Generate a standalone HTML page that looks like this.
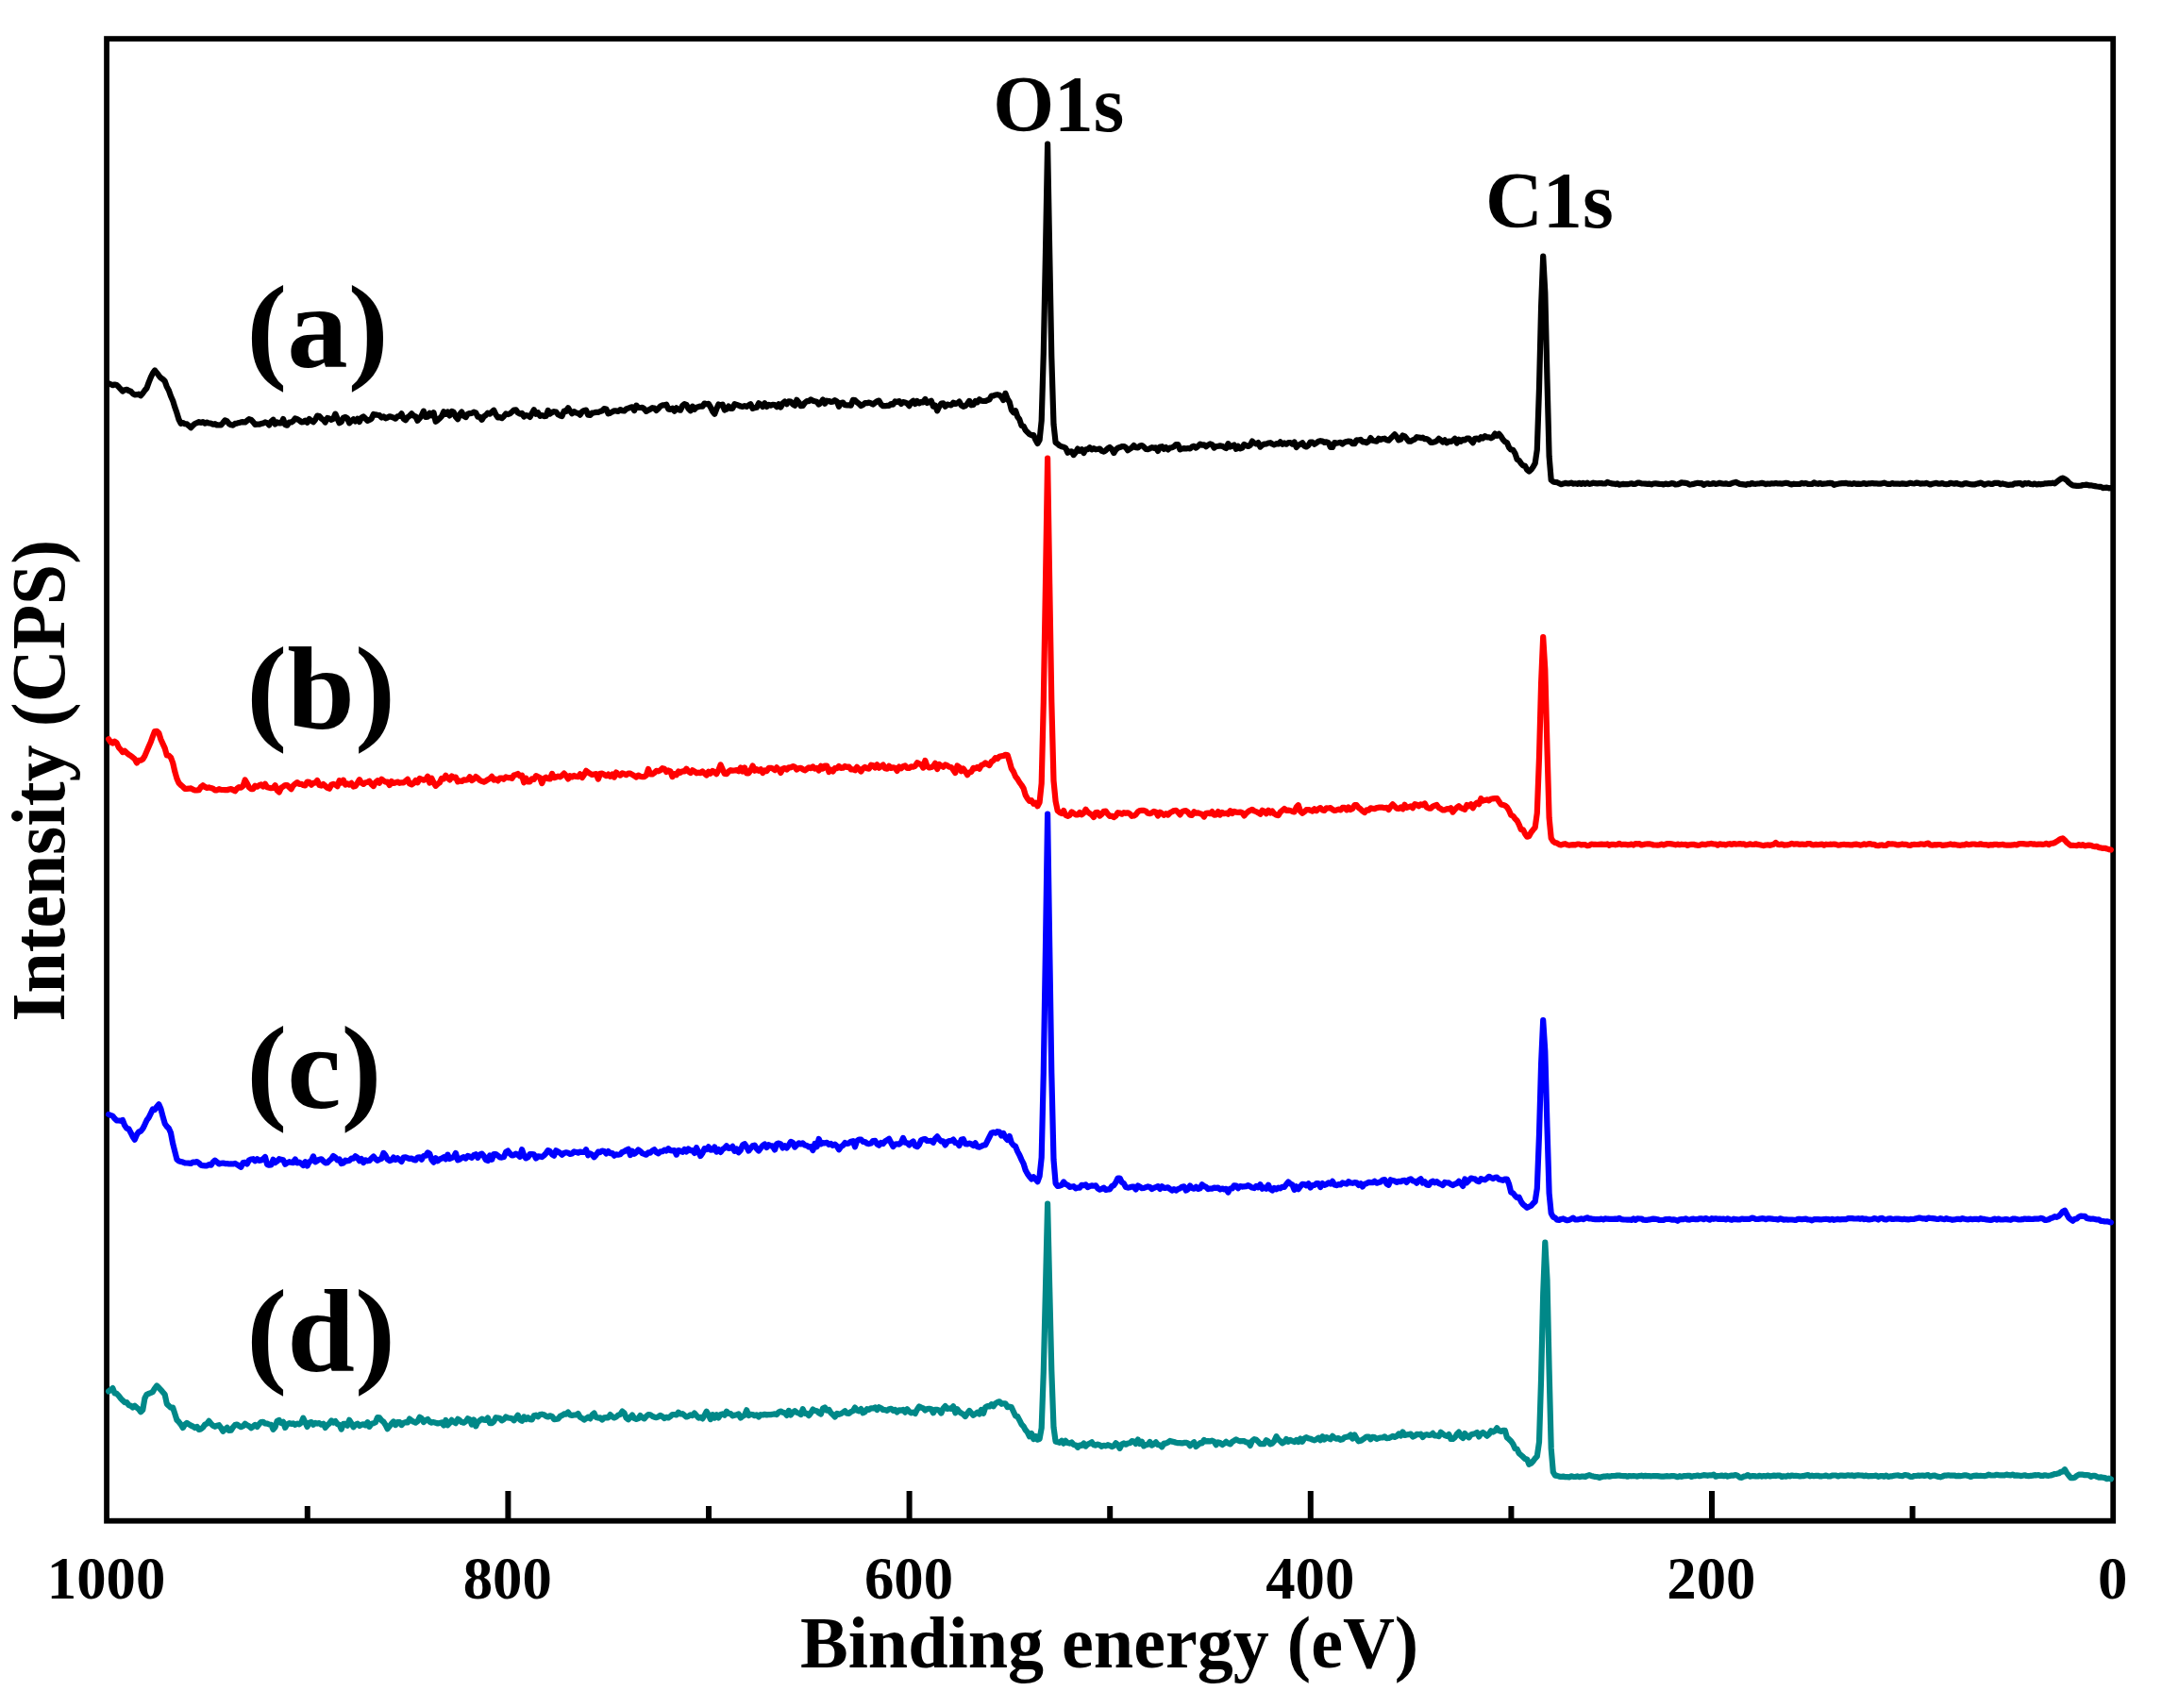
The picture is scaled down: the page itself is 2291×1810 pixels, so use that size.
<!DOCTYPE html>
<html lang="en">
<head>
<meta charset="utf-8">
<title>XPS survey spectra</title>
<style>
html,body{margin:0;padding:0;background:#fff;}
body{width:2291px;height:1810px;overflow:hidden;}
svg{display:block;}
text{font-family:"Liberation Serif",serif;font-weight:bold;fill:#000;}
.tick{font-size:62px;text-anchor:middle;}
.axis{font-size:76px;text-anchor:middle;}
.lab{font-size:126px;}
.pk{font-size:82px;}
</style>
</head>
<body>
<svg width="2291" height="1810" viewBox="0 0 2291 1810">
<rect x="0" y="0" width="2291" height="1810" fill="#ffffff"/>
<rect x="113.05" y="41.1" width="2126.15" height="1570.6" fill="none" stroke="#000" stroke-width="5.8"/>
<g id="curves">
<polyline points="115.1,406.3 117.3,407.3 119.4,408.2 121.5,407.5 123.6,408.0 125.8,410.1 127.9,412.3 130.0,414.5 132.1,413.2 134.3,412.8 136.4,414.0 138.5,414.7 140.6,417.0 142.8,418.3 144.9,418.2 147.0,417.7 149.1,419.3 151.3,416.7 153.4,413.8 155.5,411.2 157.6,405.4 159.8,399.9 161.9,395.5 164.0,392.4 166.2,395.1 168.3,397.9 170.4,400.4 172.5,401.8 174.7,404.0 176.8,409.9 178.9,413.8 181.0,419.8 183.2,424.7 185.3,431.6 187.4,437.6 189.5,444.5 191.7,448.9 193.8,448.1 195.9,449.2 198.0,449.4 200.2,451.3 202.3,453.2 204.4,450.9 206.5,449.0 208.7,448.1 210.8,447.2 212.9,447.9 215.0,447.1 217.2,448.6 219.3,447.6 221.4,448.5 223.6,448.7 225.7,449.7 227.8,449.2 229.9,450.5 232.1,450.4 234.2,450.4 236.3,448.0 238.4,445.4 240.6,446.4 242.7,449.0 244.8,450.3 246.9,450.6 249.1,448.9 251.2,448.6 253.3,448.1 255.4,447.4 257.6,447.2 259.7,447.5 261.8,445.8 263.9,444.2 266.1,444.9 268.2,447.2 270.3,449.9 272.5,449.7 274.6,449.7 276.7,449.1 278.8,448.6 281.0,447.4 283.1,448.1 285.2,450.4 287.3,446.8 289.5,444.7 291.6,449.5 293.7,447.5 295.8,448.3 298.0,448.3 300.1,444.0 302.2,450.0 304.3,450.7 306.5,447.5 308.6,447.5 310.7,446.2 312.8,443.5 315.0,444.2 317.1,445.4 319.2,447.3 321.3,447.1 323.5,445.6 325.6,447.8 327.7,444.0 329.9,445.9 332.0,447.2 334.1,444.7 336.2,440.6 338.4,441.0 340.5,443.4 342.6,444.9 344.7,447.5 346.9,443.0 349.0,443.5 351.1,444.9 353.2,443.7 355.4,438.6 357.5,443.4 359.6,448.2 361.7,447.1 363.9,442.7 366.0,442.1 368.1,443.2 370.2,448.3 372.4,446.1 374.5,444.2 376.6,446.5 378.8,443.9 380.9,447.0 383.0,442.7 385.1,441.5 387.3,443.6 389.4,445.8 391.5,444.9 393.6,443.8 395.8,438.9 397.9,439.4 400.0,439.8 402.1,440.1 404.3,442.5 406.4,441.4 408.5,443.3 410.6,442.5 412.8,441.3 414.9,441.8 417.0,442.6 419.1,443.7 421.3,441.3 423.4,441.0 425.5,438.4 427.6,443.7 429.8,445.3 431.9,442.3 434.0,440.7 436.2,438.4 438.3,440.6 440.4,441.4 442.5,445.8 444.7,443.3 446.8,440.2 448.9,435.6 451.0,442.0 453.2,441.7 455.3,437.8 457.4,440.1 459.5,437.2 461.7,446.8 463.8,445.2 465.9,443.4 468.0,441.2 470.2,436.3 472.3,438.8 474.4,436.6 476.5,440.4 478.7,435.9 480.8,436.9 482.9,441.7 485.1,444.2 487.2,439.1 489.3,436.6 491.4,440.8 493.6,442.1 495.7,438.7 497.8,438.1 499.9,437.9 502.1,436.7 504.2,437.4 506.3,441.6 508.4,441.9 510.6,444.8 512.7,441.3 514.8,440.0 516.9,437.7 519.1,438.7 521.2,436.5 523.3,434.7 525.4,439.3 527.6,442.4 529.7,442.2 531.8,443.1 533.9,441.2 536.1,438.4 538.2,439.1 540.3,438.4 542.5,436.5 544.6,434.6 546.7,434.4 548.8,437.4 551.0,438.7 553.1,437.9 555.2,441.5 557.3,440.1 559.5,440.5 561.6,441.9 563.7,438.1 565.8,434.3 568.0,438.7 570.1,437.2 572.2,440.8 574.3,440.0 576.5,441.1 578.6,441.0 580.7,434.9 582.8,438.6 585.0,437.0 587.1,436.2 589.2,436.6 591.4,439.2 593.5,440.4 595.6,441.0 597.7,435.6 599.9,435.9 602.0,432.2 604.1,435.6 606.2,438.2 608.4,436.1 610.5,437.5 612.6,437.9 614.7,439.6 616.9,436.2 619.0,435.0 621.1,434.6 623.2,439.7 625.4,440.0 627.5,437.5 629.6,437.3 631.7,436.9 633.9,436.9 636.0,436.0 638.1,435.3 640.2,433.1 642.4,433.5 644.5,438.4 646.6,437.7 648.8,436.4 650.9,435.3 653.0,435.4 655.1,436.0 657.3,434.1 659.4,435.1 661.5,435.4 663.6,433.4 665.8,432.6 667.9,431.8 670.0,431.3 672.1,435.1 674.3,429.6 676.4,432.0 678.5,432.0 680.6,431.9 682.8,433.4 684.9,435.9 687.0,434.6 689.1,433.6 691.3,432.2 693.4,432.6 695.5,434.9 697.7,432.9 699.8,430.5 701.9,429.4 704.0,429.3 706.2,428.7 708.3,433.6 710.4,433.8 712.5,432.6 714.7,435.7 716.8,432.3 718.9,434.0 721.0,434.7 723.2,429.9 725.3,428.2 727.4,428.9 729.5,433.0 731.7,435.2 733.8,430.6 735.9,433.8 738.0,431.8 740.2,431.1 742.3,430.5 744.4,430.7 746.5,427.6 748.7,428.2 750.8,427.9 752.9,431.4 755.1,435.9 757.2,438.8 759.3,433.3 761.4,428.5 763.6,429.5 765.7,428.7 767.8,434.5 769.9,433.6 772.1,430.5 774.2,432.9 776.3,432.8 778.4,428.2 780.6,428.9 782.7,429.7 784.8,430.5 786.9,431.0 789.1,430.1 791.2,430.9 793.3,429.5 795.4,428.3 797.6,432.9 799.7,432.1 801.8,431.8 804.0,427.3 806.1,428.6 808.2,431.0 810.3,427.3 812.5,430.9 814.6,428.9 816.7,429.7 818.8,428.8 821.0,429.1 823.1,431.1 825.2,428.3 827.3,431.4 829.5,427.4 831.6,425.5 833.7,428.2 835.8,425.3 838.0,425.6 840.1,428.3 842.2,429.7 844.3,423.8 846.5,426.4 848.6,430.1 850.7,429.9 852.8,426.9 855.0,425.1 857.1,425.2 859.2,423.4 861.4,424.7 863.5,425.3 865.6,425.7 867.7,428.6 869.9,426.7 872.0,423.5 874.1,427.7 876.2,424.7 878.4,425.0 880.5,425.8 882.6,425.6 884.7,424.2 886.9,425.4 889.0,430.9 891.1,427.0 893.2,426.6 895.4,429.2 897.5,429.3 899.6,429.4 901.7,429.7 903.9,423.8 906.0,424.1 908.1,426.2 910.2,427.8 912.4,430.0 914.5,429.0 916.6,427.2 918.8,427.2 920.9,426.6 923.0,427.4 925.1,428.5 927.3,426.8 929.4,425.2 931.5,424.6 933.6,428.5 935.8,430.2 937.9,430.2 940.0,429.9 942.1,429.8 944.3,428.0 946.4,428.7 948.5,425.4 950.6,426.0 952.8,425.1 954.9,427.9 957.0,426.1 959.1,426.5 961.3,427.6 963.4,430.1 965.5,426.4 967.7,424.8 969.8,428.0 971.9,425.0 974.0,427.3 976.2,425.9 978.3,426.4 980.4,423.0 982.5,427.1 984.7,426.0 986.8,424.8 988.9,430.6 991.0,429.7 993.2,435.3 995.3,430.8 997.4,427.6 999.5,427.4 1001.7,430.7 1003.8,428.6 1005.9,429.0 1008.0,429.4 1010.2,426.7 1012.3,428.0 1014.4,427.3 1016.5,425.6 1018.7,429.6 1020.8,430.8 1022.9,430.0 1025.1,427.9 1027.2,424.9 1029.3,429.3 1031.4,429.0 1033.6,424.9 1035.7,426.3 1037.8,423.2 1039.9,424.7 1042.1,425.0 1044.2,425.0 1046.3,424.2 1048.4,423.3 1050.6,419.6 1052.7,419.4 1054.8,418.5 1056.9,418.2 1059.1,418.7 1061.2,420.7 1063.3,424.0 1065.4,416.8 1067.6,422.8 1069.7,425.9 1071.8,434.3 1074.0,437.2 1076.1,435.3 1078.2,441.6 1080.3,444.4 1082.5,451.1 1084.6,451.7 1086.7,455.9 1088.8,458.1 1091.0,460.2 1093.1,461.1 1095.2,461.0 1097.3,466.0 1099.5,469.9 1101.6,466.3 1103.7,445.8 1105.8,374.4 1108.0,267.1 1110.1,152.6 1112.2,267.9 1114.3,378.5 1116.5,449.7 1118.6,469.0 1120.7,470.4 1122.9,472.3 1125.0,473.3 1127.1,473.7 1129.2,474.7 1131.4,479.7 1133.5,478.5 1135.6,478.4 1137.7,482.1 1139.9,479.4 1142.0,475.6 1144.1,477.8 1146.2,476.2 1148.4,480.0 1150.5,476.3 1152.6,476.1 1154.7,474.2 1156.9,476.4 1159.0,475.1 1161.1,476.3 1163.2,476.0 1165.4,475.5 1167.5,477.9 1169.6,478.6 1171.7,477.3 1173.9,475.2 1176.0,474.0 1178.1,475.8 1180.3,480.0 1182.4,476.6 1184.5,474.7 1186.6,474.1 1188.8,473.2 1190.9,473.0 1193.0,474.2 1195.1,477.3 1197.3,475.8 1199.4,474.4 1201.5,472.0 1203.6,474.2 1205.8,474.5 1207.9,472.6 1210.0,472.1 1212.1,473.6 1214.3,475.9 1216.4,476.1 1218.5,475.3 1220.6,474.1 1222.8,474.8 1224.9,474.4 1227.0,477.9 1229.2,473.5 1231.3,473.2 1233.4,475.9 1235.5,474.1 1237.7,476.4 1239.8,474.6 1241.9,474.3 1244.0,473.2 1246.2,471.1 1248.3,471.0 1250.4,476.4 1252.5,475.5 1254.7,475.1 1256.8,475.5 1258.9,475.0 1261.0,475.5 1263.2,473.5 1265.3,472.8 1267.4,474.6 1269.5,472.9 1271.7,470.6 1273.8,471.6 1275.9,471.4 1278.0,473.2 1280.2,471.6 1282.3,470.4 1284.4,471.1 1286.6,474.6 1288.7,473.0 1290.8,472.8 1292.9,472.4 1295.1,472.7 1297.2,473.9 1299.3,475.0 1301.4,470.2 1303.6,473.6 1305.7,472.5 1307.8,471.5 1309.9,475.8 1312.1,472.9 1314.2,475.4 1316.3,474.6 1318.4,470.9 1320.6,472.2 1322.7,473.0 1324.8,471.8 1326.9,467.6 1329.1,469.5 1331.2,470.4 1333.3,469.1 1335.5,473.6 1337.6,471.6 1339.7,470.7 1341.8,470.5 1344.0,469.5 1346.1,469.2 1348.2,470.5 1350.3,471.4 1352.5,470.2 1354.6,470.5 1356.7,468.4 1358.8,470.8 1361.0,469.5 1363.1,470.7 1365.2,469.1 1367.3,469.2 1369.5,470.5 1371.6,468.5 1373.7,474.0 1375.8,471.6 1378.0,470.7 1380.1,469.2 1382.2,472.7 1384.3,473.5 1386.5,471.9 1388.6,468.5 1390.7,468.7 1392.9,470.7 1395.0,469.4 1397.1,467.8 1399.2,467.2 1401.4,467.6 1403.5,469.0 1405.6,468.3 1407.7,469.1 1409.9,474.0 1412.0,474.0 1414.1,469.1 1416.2,469.6 1418.4,469.3 1420.5,468.8 1422.6,470.5 1424.7,468.7 1426.9,468.0 1429.0,467.6 1431.1,467.8 1433.2,470.2 1435.4,470.1 1437.5,466.4 1439.6,466.5 1441.8,465.9 1443.9,468.3 1446.0,468.1 1448.1,469.1 1450.3,467.7 1452.4,464.1 1454.5,466.7 1456.6,467.2 1458.8,467.7 1460.9,464.8 1463.0,466.0 1465.1,465.1 1467.3,464.7 1469.4,466.2 1471.5,466.7 1473.6,464.6 1475.8,462.5 1477.9,460.3 1480.0,462.7 1482.1,466.4 1484.3,465.6 1486.4,461.5 1488.5,462.4 1490.6,464.8 1492.8,467.7 1494.9,467.7 1497.0,466.3 1499.2,465.5 1501.3,463.2 1503.4,463.6 1505.5,464.1 1507.7,463.7 1509.8,465.2 1511.9,465.1 1514.0,466.4 1516.2,468.9 1518.3,468.8 1520.4,468.3 1522.5,467.2 1524.7,464.8 1526.8,466.5 1528.9,468.4 1531.0,466.4 1533.2,469.3 1535.3,467.6 1537.4,468.0 1539.5,466.9 1541.7,464.8 1543.8,469.6 1545.9,465.7 1548.1,467.7 1550.2,465.8 1552.3,466.4 1554.4,464.7 1556.6,464.6 1558.7,466.8 1560.8,469.1 1562.9,464.8 1565.1,464.6 1567.2,465.8 1569.3,463.3 1571.4,464.5 1573.6,462.1 1575.7,463.4 1577.8,463.3 1579.9,464.3 1582.1,463.0 1584.2,459.6 1586.3,461.8 1588.4,459.8 1590.6,462.5 1592.7,465.8 1594.8,468.1 1596.9,469.0 1599.1,474.3 1601.2,476.5 1603.3,476.8 1605.5,480.5 1607.6,486.8 1609.7,488.0 1611.8,491.1 1614.0,493.4 1616.1,493.8 1618.2,497.9 1620.3,499.5 1622.5,497.7 1624.6,494.8 1626.7,491.0 1628.8,476.6 1631.0,411.5 1633.1,325.0 1635.2,271.5 1637.3,310.0 1639.5,402.5 1641.6,483.5 1643.7,508.7 1645.8,510.4 1648.0,511.0 1650.1,511.2 1652.2,512.2 1654.3,513.2 1656.5,512.6 1658.6,511.9 1660.7,512.3 1662.9,512.3 1665.0,511.7 1667.1,512.6 1669.2,512.3 1671.4,512.8 1673.5,511.9 1675.6,512.9 1677.7,511.9 1679.9,512.8 1682.0,511.7 1684.1,512.9 1686.2,512.5 1688.4,511.7 1690.5,512.1 1692.6,512.5 1694.7,512.0 1696.9,512.1 1699.0,512.5 1701.1,512.4 1703.2,510.9 1705.4,511.7 1707.5,512.4 1709.6,512.6 1711.8,513.1 1713.9,512.3 1716.0,513.7 1718.1,513.3 1720.3,512.9 1722.4,513.2 1724.5,513.2 1726.6,512.8 1728.8,512.3 1730.9,512.9 1733.0,512.9 1735.1,511.7 1737.3,511.7 1739.4,512.4 1741.5,512.5 1743.6,512.7 1745.8,512.9 1747.9,512.7 1750.0,513.4 1752.1,512.5 1754.3,512.3 1756.4,512.6 1758.5,512.9 1760.7,513.0 1762.8,513.4 1764.9,512.6 1767.0,513.1 1769.2,512.9 1771.3,512.1 1773.4,512.3 1775.5,513.5 1777.7,513.2 1779.8,512.5 1781.9,511.3 1784.0,511.7 1786.2,511.9 1788.3,512.3 1790.4,513.6 1792.5,513.3 1794.7,512.9 1796.8,512.2 1798.9,511.8 1801.0,512.1 1803.2,512.1 1805.3,513.9 1807.4,512.8 1809.5,512.3 1811.7,513.0 1813.8,512.7 1815.9,512.0 1818.1,513.0 1820.2,512.5 1822.3,511.8 1824.4,512.4 1826.6,512.7 1828.7,512.4 1830.8,512.8 1832.9,513.0 1835.1,512.2 1837.2,511.4 1839.3,510.9 1841.4,511.9 1843.6,512.9 1845.7,513.1 1847.8,513.4 1849.9,513.8 1852.1,512.9 1854.2,513.2 1856.3,512.0 1858.4,512.7 1860.6,512.8 1862.7,512.5 1864.8,512.3 1867.0,511.9 1869.1,512.3 1871.2,513.1 1873.3,512.5 1875.5,512.8 1877.6,512.3 1879.7,512.5 1881.8,512.0 1884.0,512.5 1886.1,512.4 1888.2,512.6 1890.3,512.2 1892.5,511.8 1894.6,512.1 1896.7,512.9 1898.8,513.4 1901.0,512.7 1903.1,513.0 1905.2,513.0 1907.3,512.9 1909.5,511.9 1911.6,512.4 1913.7,512.0 1915.8,512.9 1918.0,513.0 1920.1,513.0 1922.2,511.4 1924.4,512.4 1926.5,512.8 1928.6,512.0 1930.7,512.8 1932.9,512.6 1935.0,512.5 1937.1,512.1 1939.2,511.9 1941.4,512.1 1943.5,513.9 1945.6,513.1 1947.7,512.8 1949.9,512.3 1952.0,512.1 1954.1,512.1 1956.2,511.9 1958.4,512.7 1960.5,512.4 1962.6,512.9 1964.7,512.1 1966.9,512.8 1969.0,512.6 1971.1,512.9 1973.2,512.6 1975.4,512.1 1977.5,513.0 1979.6,512.4 1981.8,512.4 1983.9,512.0 1986.0,512.4 1988.1,512.3 1990.3,512.6 1992.4,512.7 1994.5,512.2 1996.6,511.7 1998.8,512.4 2000.9,512.9 2003.0,513.0 2005.1,512.1 2007.3,512.7 2009.4,512.7 2011.5,512.7 2013.6,512.8 2015.8,512.4 2017.9,512.6 2020.0,513.0 2022.1,512.4 2024.3,511.8 2026.4,512.2 2028.5,512.5 2030.7,511.6 2032.8,511.8 2034.9,512.6 2037.0,512.4 2039.2,512.5 2041.3,511.9 2043.4,512.7 2045.5,513.5 2047.7,512.7 2049.8,512.2 2051.9,511.8 2054.0,512.7 2056.2,512.6 2058.3,512.1 2060.4,513.0 2062.5,513.1 2064.7,513.0 2066.8,511.8 2068.9,512.2 2071.0,512.7 2073.2,512.0 2075.3,512.8 2077.4,513.3 2079.6,513.3 2081.7,512.4 2083.8,512.1 2085.9,512.8 2088.1,513.1 2090.2,513.3 2092.3,513.4 2094.4,512.8 2096.6,512.4 2098.7,511.5 2100.8,512.6 2102.9,513.7 2105.1,512.7 2107.2,512.3 2109.3,512.8 2111.4,512.8 2113.6,511.9 2115.7,511.9 2117.8,511.8 2119.9,513.2 2122.1,512.4 2124.2,512.9 2126.3,513.6 2128.4,513.8 2130.6,513.7 2132.7,513.7 2134.8,512.3 2137.0,512.3 2139.1,512.1 2141.2,512.2 2143.3,513.7 2145.5,512.1 2147.6,512.6 2149.7,511.9 2151.8,513.0 2154.0,513.3 2156.1,512.5 2158.2,513.5 2160.3,512.9 2162.5,513.3 2164.6,512.9 2166.7,512.4 2168.8,512.3 2171.0,512.2 2173.1,512.2 2175.2,511.7 2177.3,512.4 2179.5,510.6 2181.6,509.0 2183.7,507.5 2185.8,506.7 2188.0,507.6 2190.1,509.0 2192.2,511.4 2194.4,513.1 2196.5,514.4 2198.6,514.6 2200.7,514.9 2202.9,514.8 2205.0,514.7 2207.1,514.0 2209.2,513.9 2211.4,513.7 2213.5,514.3 2215.6,514.3 2217.7,514.7 2219.9,515.1 2222.0,515.5 2224.1,515.8 2226.2,515.9 2228.4,517.1 2230.5,516.8 2232.6,516.6 2234.7,517.3 2236.9,517.1" fill="none" stroke="#000000" stroke-width="6.2" stroke-linejoin="round" stroke-linecap="round"/>
<polyline points="115.1,783.3 117.3,786.4 119.4,787.5 121.5,785.6 123.6,787.2 125.8,792.1 127.9,794.3 130.0,797.0 132.1,795.7 134.3,797.8 136.4,799.6 138.5,800.9 140.6,802.5 142.8,804.4 144.9,808.4 147.0,805.9 149.1,805.7 151.3,804.5 153.4,801.1 155.5,796.1 157.6,791.2 159.8,786.3 161.9,780.3 164.0,775.0 166.2,774.9 168.3,776.8 170.4,783.5 172.5,788.1 174.7,792.9 176.8,800.5 178.9,800.6 181.0,802.7 183.2,808.5 185.3,817.7 187.4,825.0 189.5,829.8 191.7,832.0 193.8,833.7 195.9,835.8 198.0,835.8 200.2,835.7 202.3,835.4 204.4,836.6 206.5,837.5 208.7,837.4 210.8,837.2 212.9,834.0 215.0,832.3 217.2,833.9 219.3,834.9 221.4,834.4 223.6,835.1 225.7,835.7 227.8,837.4 229.9,837.3 232.1,836.2 234.2,836.9 236.3,837.0 238.4,837.1 240.6,837.2 242.7,836.5 244.8,836.1 246.9,837.1 249.1,838.2 251.2,835.6 253.3,834.2 255.4,834.6 257.6,832.8 259.7,826.5 261.8,830.0 263.9,834.4 266.1,836.1 268.2,836.1 270.3,832.7 272.5,833.7 274.6,832.2 276.7,831.5 278.8,833.5 281.0,830.7 283.1,834.3 285.2,834.7 287.3,835.2 289.5,834.9 291.6,832.2 293.7,837.5 295.8,839.4 298.0,834.9 300.1,833.5 302.2,832.0 304.3,832.0 306.5,834.2 308.6,836.1 310.7,832.5 312.8,830.7 315.0,829.1 317.1,830.9 319.2,830.8 321.3,831.9 323.5,832.4 325.6,828.5 327.7,828.8 329.9,831.7 332.0,829.9 334.1,829.5 336.2,827.1 338.4,832.1 340.5,832.6 342.6,831.0 344.7,832.9 346.9,834.9 349.0,835.7 351.1,831.7 353.2,830.9 355.4,831.5 357.5,833.2 359.6,827.2 361.7,829.5 363.9,826.7 366.0,831.6 368.1,830.3 370.2,831.7 372.4,829.9 374.5,833.5 376.6,833.0 378.8,829.7 380.9,826.2 383.0,829.6 385.1,830.9 387.3,829.3 389.4,829.0 391.5,827.8 393.6,831.2 395.8,833.0 397.9,829.1 400.0,827.3 402.1,829.6 404.3,825.7 406.4,827.4 408.5,828.6 410.6,828.6 412.8,832.0 414.9,828.0 417.0,829.9 419.1,829.4 421.3,828.5 423.4,829.8 425.5,829.3 427.6,829.5 429.8,827.6 431.9,825.8 434.0,830.4 436.2,831.3 438.3,829.9 440.4,827.1 442.5,829.2 444.7,825.0 446.8,825.8 448.9,826.7 451.0,826.1 453.2,822.8 455.3,829.6 457.4,824.7 459.5,829.3 461.7,832.8 463.8,830.7 465.9,829.4 468.0,824.9 470.2,825.4 472.3,821.8 474.4,824.2 476.5,826.4 478.7,822.4 480.8,824.1 482.9,823.6 485.1,828.4 487.2,827.5 489.3,828.0 491.4,826.3 493.6,826.6 495.7,826.3 497.8,823.3 499.9,827.1 502.1,825.7 504.2,823.1 506.3,824.5 508.4,826.8 510.6,827.9 512.7,828.6 514.8,827.6 516.9,826.2 519.1,825.1 521.2,822.9 523.3,826.5 525.4,825.7 527.6,827.4 529.7,824.5 531.8,824.5 533.9,825.7 536.1,823.4 538.2,824.1 540.3,824.1 542.5,824.9 544.6,821.5 546.7,820.9 548.8,820.0 551.0,822.4 553.1,821.6 555.2,829.3 557.3,824.6 559.5,828.5 561.6,828.3 563.7,825.4 565.8,825.9 568.0,822.2 570.1,823.1 572.2,824.3 574.3,830.1 576.5,824.9 578.6,823.7 580.7,825.2 582.8,825.5 585.0,819.9 587.1,824.2 589.2,823.5 591.4,822.7 593.5,823.3 595.6,821.7 597.7,819.6 599.9,822.1 602.0,825.4 604.1,822.3 606.2,823.4 608.4,821.9 610.5,823.0 612.6,823.1 614.7,820.4 616.9,824.0 619.0,820.9 621.1,816.8 623.2,818.5 625.4,819.8 627.5,821.0 629.6,820.5 631.7,820.1 633.9,825.6 636.0,819.9 638.1,819.7 640.2,820.8 642.4,822.2 644.5,820.6 646.6,822.8 648.8,820.6 650.9,823.6 653.0,818.5 655.1,820.6 657.3,821.7 659.4,819.3 661.5,820.2 663.6,821.2 665.8,819.6 667.9,819.7 670.0,820.9 672.1,822.2 674.3,823.5 676.4,821.6 678.5,822.7 680.6,823.1 682.8,823.2 684.9,821.5 687.0,814.9 689.1,820.4 691.3,820.4 693.4,819.0 695.5,816.9 697.7,817.3 699.8,816.3 701.9,814.2 704.0,814.8 706.2,818.0 708.3,816.5 710.4,817.4 712.5,823.1 714.7,820.1 716.8,821.2 718.9,817.4 721.0,818.8 723.2,817.3 725.3,817.5 727.4,814.7 729.5,817.5 731.7,819.1 733.8,816.3 735.9,817.4 738.0,819.3 740.2,818.7 742.3,819.1 744.4,817.4 746.5,819.4 748.7,821.5 750.8,817.7 752.9,819.7 755.1,817.0 757.2,818.2 759.3,820.2 761.4,816.1 763.6,810.5 765.7,815.3 767.8,820.0 769.9,820.1 772.1,817.6 774.2,816.2 776.3,816.6 778.4,816.5 780.6,816.1 782.7,817.2 784.8,813.5 786.9,817.6 789.1,813.5 791.2,819.4 793.3,819.4 795.4,816.2 797.6,811.5 799.7,816.7 801.8,815.1 804.0,816.8 806.1,815.3 808.2,819.0 810.3,816.5 812.5,817.2 814.6,813.9 816.7,813.8 818.8,814.4 821.0,816.1 823.1,813.4 825.2,815.4 827.3,818.9 829.5,814.7 831.6,814.0 833.7,815.6 835.8,813.3 838.0,813.3 840.1,812.1 842.2,812.7 844.3,815.6 846.5,814.0 848.6,813.8 850.7,815.2 852.8,816.4 855.0,814.9 857.1,813.3 859.2,814.2 861.4,812.4 863.5,814.6 865.6,814.0 867.7,816.4 869.9,811.7 872.0,814.6 874.1,811.5 876.2,811.5 878.4,818.0 880.5,815.7 882.6,817.5 884.7,814.2 886.9,814.2 889.0,812.0 891.1,813.8 893.2,813.7 895.4,812.0 897.5,812.9 899.6,812.5 901.7,815.3 903.9,815.3 906.0,816.3 908.1,812.8 910.2,815.2 912.4,817.5 914.5,814.3 916.6,813.0 918.8,814.2 920.9,814.7 923.0,810.6 925.1,811.3 927.3,813.5 929.4,810.3 931.5,813.7 933.6,812.2 935.8,810.6 937.9,814.3 940.0,814.7 942.1,811.8 944.3,813.9 946.4,813.3 948.5,813.7 950.6,816.9 952.8,812.6 954.9,814.2 957.0,812.1 959.1,811.4 961.3,813.8 963.4,813.8 965.5,812.4 967.7,812.6 969.8,811.8 971.9,808.2 974.0,809.5 976.2,810.1 978.3,813.6 980.4,805.9 982.5,811.9 984.7,813.5 986.8,813.0 988.9,812.2 991.0,808.8 993.2,815.0 995.3,809.9 997.4,811.4 999.5,812.7 1001.7,810.5 1003.8,811.2 1005.9,812.7 1008.0,813.0 1010.2,815.9 1012.3,819.0 1014.4,811.5 1016.5,813.0 1018.7,817.2 1020.8,814.6 1022.9,817.5 1025.1,821.2 1027.2,818.4 1029.3,817.9 1031.4,813.8 1033.6,814.3 1035.7,813.0 1037.8,814.7 1039.9,811.0 1042.1,810.2 1044.2,808.5 1046.3,809.8 1048.4,811.0 1050.6,807.2 1052.7,805.8 1054.8,803.1 1056.9,804.0 1059.1,801.8 1061.2,801.2 1063.3,800.9 1065.4,799.8 1067.6,800.0 1069.7,806.7 1071.8,814.3 1074.0,817.9 1076.1,822.9 1078.2,825.5 1080.3,829.0 1082.5,832.0 1084.6,835.4 1086.7,842.6 1088.8,846.3 1091.0,848.9 1093.1,848.2 1095.2,851.8 1097.3,850.8 1099.5,854.2 1101.6,850.3 1103.7,830.1 1105.8,744.1 1108.0,617.6 1110.1,485.6 1112.2,619.1 1114.3,743.4 1116.5,827.4 1118.6,849.1 1120.7,859.1 1122.9,860.9 1125.0,862.0 1127.1,859.1 1129.2,863.7 1131.4,864.9 1133.5,864.0 1135.6,860.4 1137.7,861.8 1139.9,863.3 1142.0,863.3 1144.1,861.0 1146.2,863.3 1148.4,861.6 1150.5,857.8 1152.6,860.4 1154.7,861.9 1156.9,863.5 1159.0,866.0 1161.1,861.0 1163.2,860.9 1165.4,864.6 1167.5,862.9 1169.6,859.8 1171.7,859.7 1173.9,862.7 1176.0,865.0 1178.1,864.7 1180.3,866.0 1182.4,864.7 1184.5,861.2 1186.6,861.6 1188.8,862.7 1190.9,861.1 1193.0,861.8 1195.1,861.3 1197.3,862.5 1199.4,864.8 1201.5,864.5 1203.6,863.3 1205.8,860.2 1207.9,859.1 1210.0,858.8 1212.1,858.9 1214.3,859.6 1216.4,861.8 1218.5,862.2 1220.6,861.3 1222.8,859.8 1224.9,860.6 1227.0,864.5 1229.2,860.7 1231.3,862.1 1233.4,863.8 1235.5,862.2 1237.7,863.6 1239.8,861.3 1241.9,860.3 1244.0,859.0 1246.2,858.9 1248.3,860.8 1250.4,863.4 1252.5,860.3 1254.7,859.3 1256.8,859.2 1258.9,860.8 1261.0,863.6 1263.2,863.8 1265.3,860.2 1267.4,861.7 1269.5,861.4 1271.7,862.2 1273.8,862.9 1275.9,865.5 1278.0,861.8 1280.2,861.6 1282.3,862.2 1284.4,860.1 1286.6,863.7 1288.7,863.4 1290.8,860.1 1292.9,863.6 1295.1,861.0 1297.2,862.2 1299.3,861.7 1301.4,862.7 1303.6,859.2 1305.7,862.0 1307.8,859.8 1309.9,860.7 1312.1,860.9 1314.2,860.6 1316.3,861.2 1318.4,864.4 1320.6,861.8 1322.7,860.0 1324.8,858.8 1326.9,857.9 1329.1,859.4 1331.2,860.1 1333.3,861.3 1335.5,862.8 1337.6,858.8 1339.7,859.8 1341.8,862.1 1344.0,858.7 1346.1,861.4 1348.2,859.5 1350.3,862.3 1352.5,863.8 1354.6,864.1 1356.7,860.7 1358.8,858.9 1361.0,857.0 1363.1,858.8 1365.2,858.6 1367.3,859.0 1369.5,859.9 1371.6,860.4 1373.7,855.4 1375.8,853.2 1378.0,859.7 1380.1,861.7 1382.2,860.2 1384.3,858.2 1386.5,858.0 1388.6,858.7 1390.7,859.5 1392.9,857.3 1395.0,859.1 1397.1,857.2 1399.2,856.1 1401.4,858.4 1403.5,858.9 1405.6,856.3 1407.7,856.5 1409.9,856.1 1412.0,857.8 1414.1,859.0 1416.2,858.4 1418.4,857.7 1420.5,858.4 1422.6,855.9 1424.7,855.8 1426.9,858.3 1429.0,855.4 1431.1,858.0 1433.2,857.0 1435.4,853.2 1437.5,853.2 1439.6,855.9 1441.8,857.4 1443.9,859.4 1446.0,860.9 1448.1,858.4 1450.3,858.7 1452.4,856.3 1454.5,856.9 1456.6,857.1 1458.8,856.1 1460.9,855.7 1463.0,855.6 1465.1,855.7 1467.3,856.2 1469.4,855.9 1471.5,858.0 1473.6,854.8 1475.8,852.3 1477.9,854.5 1480.0,856.6 1482.1,857.0 1484.3,855.4 1486.4,857.3 1488.5,852.8 1490.6,855.9 1492.8,855.1 1494.9,854.4 1497.0,856.2 1499.2,852.2 1501.3,852.8 1503.4,854.3 1505.5,852.3 1507.7,853.2 1509.8,851.5 1511.9,855.5 1514.0,856.6 1516.2,856.6 1518.3,854.6 1520.4,853.7 1522.5,853.0 1524.7,856.0 1526.8,857.1 1528.9,858.5 1531.0,858.3 1533.2,857.1 1535.3,857.4 1537.4,856.2 1539.5,860.6 1541.7,857.9 1543.8,855.8 1545.9,854.2 1548.1,856.2 1550.2,857.0 1552.3,857.9 1554.4,853.0 1556.6,854.3 1558.7,852.4 1560.8,856.2 1562.9,852.5 1565.1,850.6 1567.2,852.2 1569.3,846.2 1571.4,848.6 1573.6,847.9 1575.7,847.4 1577.8,848.4 1579.9,846.7 1582.1,846.3 1584.2,846.1 1586.3,846.0 1588.4,849.2 1590.6,852.4 1592.7,852.9 1594.8,853.6 1596.9,855.4 1599.1,858.9 1601.2,863.7 1603.3,864.7 1605.5,867.6 1607.6,869.7 1609.7,873.9 1611.8,879.1 1614.0,879.3 1616.1,883.7 1618.2,886.7 1620.3,886.0 1622.5,882.0 1624.6,879.3 1626.7,876.9 1628.8,861.6 1631.0,802.8 1633.1,724.1 1635.2,675.0 1637.3,709.8 1639.5,793.7 1641.6,866.6 1643.7,888.1 1645.8,891.7 1648.0,893.0 1650.1,893.6 1652.2,894.9 1654.3,895.5 1656.5,894.6 1658.6,894.2 1660.7,895.3 1662.9,895.7 1665.0,895.3 1667.1,895.1 1669.2,895.4 1671.4,894.5 1673.5,894.5 1675.6,895.4 1677.7,895.0 1679.9,895.2 1682.0,896.2 1684.1,895.9 1686.2,894.5 1688.4,894.8 1690.5,894.9 1692.6,895.0 1694.7,894.8 1696.9,894.6 1699.0,894.9 1701.1,894.9 1703.2,894.4 1705.4,895.8 1707.5,894.8 1709.6,894.8 1711.8,895.3 1713.9,894.9 1716.0,893.9 1718.1,895.2 1720.3,894.8 1722.4,894.9 1724.5,895.3 1726.6,895.2 1728.8,894.6 1730.9,895.5 1733.0,894.0 1735.1,894.4 1737.3,894.2 1739.4,895.5 1741.5,895.0 1743.6,894.5 1745.8,894.4 1747.9,894.4 1750.0,894.7 1752.1,895.5 1754.3,895.5 1756.4,895.7 1758.5,895.4 1760.7,894.5 1762.8,895.5 1764.9,894.7 1767.0,894.0 1769.2,894.2 1771.3,894.4 1773.4,894.8 1775.5,895.3 1777.7,894.6 1779.8,895.2 1781.9,894.7 1784.0,895.0 1786.2,894.9 1788.3,895.9 1790.4,895.1 1792.5,894.8 1794.7,894.8 1796.8,895.4 1798.9,895.8 1801.0,895.7 1803.2,894.7 1805.3,894.9 1807.4,895.1 1809.5,894.3 1811.7,894.3 1813.8,893.9 1815.9,894.5 1818.1,894.6 1820.2,895.7 1822.3,894.3 1824.4,894.8 1826.6,894.8 1828.7,895.4 1830.8,894.5 1832.9,894.2 1835.1,895.0 1837.2,894.0 1839.3,894.6 1841.4,894.5 1843.6,894.1 1845.7,894.6 1847.8,894.3 1849.9,895.4 1852.1,895.2 1854.2,894.4 1856.3,894.8 1858.4,895.0 1860.6,894.3 1862.7,894.9 1864.8,895.3 1867.0,895.8 1869.1,896.1 1871.2,895.5 1873.3,895.4 1875.5,895.8 1877.6,895.2 1879.7,894.7 1881.8,893.0 1884.0,894.9 1886.1,895.1 1888.2,894.5 1890.3,895.6 1892.5,895.4 1894.6,895.3 1896.7,894.7 1898.8,893.8 1901.0,894.6 1903.1,894.4 1905.2,894.4 1907.3,895.0 1909.5,894.5 1911.6,894.9 1913.7,894.8 1915.8,894.0 1918.0,894.1 1920.1,895.1 1922.2,895.3 1924.4,894.9 1926.5,895.2 1928.6,894.9 1930.7,894.6 1932.9,895.7 1935.0,894.7 1937.1,895.0 1939.2,894.7 1941.4,894.8 1943.5,894.5 1945.6,894.9 1947.7,895.6 1949.9,895.4 1952.0,895.0 1954.1,894.8 1956.2,895.2 1958.4,895.2 1960.5,895.3 1962.6,895.4 1964.7,894.8 1966.9,894.6 1969.0,895.0 1971.1,895.6 1973.2,895.3 1975.4,894.3 1977.5,895.1 1979.6,894.4 1981.8,894.1 1983.9,894.9 1986.0,894.9 1988.1,895.9 1990.3,896.2 1992.4,895.5 1994.5,895.4 1996.6,896.0 1998.8,895.9 2000.9,894.1 2003.0,894.5 2005.1,894.3 2007.3,894.5 2009.4,895.1 2011.5,895.5 2013.6,894.9 2015.8,894.4 2017.9,894.9 2020.0,894.9 2022.1,895.7 2024.3,895.8 2026.4,895.0 2028.5,894.9 2030.7,895.0 2032.8,895.0 2034.9,894.4 2037.0,894.5 2039.2,895.0 2041.3,894.1 2043.4,893.6 2045.5,895.5 2047.7,895.6 2049.8,895.2 2051.9,895.4 2054.0,895.0 2056.2,895.0 2058.3,895.9 2060.4,895.6 2062.5,895.4 2064.7,894.9 2066.8,894.4 2068.9,895.1 2071.0,894.9 2073.2,895.2 2075.3,895.7 2077.4,895.8 2079.6,895.4 2081.7,895.3 2083.8,894.4 2085.9,895.1 2088.1,894.9 2090.2,894.5 2092.3,894.5 2094.4,895.0 2096.6,895.0 2098.7,894.3 2100.8,895.0 2102.9,895.2 2105.1,895.2 2107.2,895.8 2109.3,895.1 2111.4,895.5 2113.6,894.8 2115.7,894.8 2117.8,895.4 2119.9,895.2 2122.1,894.8 2124.2,895.5 2126.3,895.6 2128.4,895.6 2130.6,895.6 2132.7,895.4 2134.8,894.9 2137.0,895.4 2139.1,894.4 2141.2,894.0 2143.3,894.1 2145.5,894.4 2147.6,894.7 2149.7,894.6 2151.8,894.1 2154.0,894.6 2156.1,894.4 2158.2,894.9 2160.3,894.6 2162.5,894.7 2164.6,894.9 2166.7,894.5 2168.8,893.8 2171.0,895.1 2173.1,893.8 2175.2,893.7 2177.3,893.0 2179.5,891.7 2181.6,890.2 2183.7,889.0 2185.8,888.4 2188.0,890.3 2190.1,892.8 2192.2,894.4 2194.4,896.0 2196.5,895.9 2198.6,896.0 2200.7,896.1 2202.9,895.2 2205.0,895.9 2207.1,895.1 2209.2,896.4 2211.4,895.9 2213.5,895.7 2215.6,895.8 2217.7,896.8 2219.9,897.1 2222.0,896.8 2224.1,898.2 2226.2,898.4 2228.4,898.9 2230.5,898.8 2232.6,899.4 2234.7,900.1 2236.9,900.5" fill="none" stroke="#ff0000" stroke-width="6.2" stroke-linejoin="round" stroke-linecap="round"/>
<polyline points="115.1,1181.0 117.3,1181.9 119.4,1182.6 121.5,1185.3 123.6,1187.4 125.8,1187.5 127.9,1187.8 130.0,1187.0 132.1,1192.6 134.3,1195.8 136.4,1196.3 138.5,1200.2 140.6,1204.5 142.8,1207.7 144.9,1202.5 147.0,1199.4 149.1,1198.7 151.3,1196.1 153.4,1191.8 155.5,1187.2 157.6,1184.4 159.8,1179.9 161.9,1175.4 164.0,1176.0 166.2,1172.7 168.3,1170.3 170.4,1175.0 172.5,1183.0 174.7,1190.7 176.8,1193.7 178.9,1195.8 181.0,1200.6 183.2,1212.1 185.3,1220.3 187.4,1228.6 189.5,1230.3 191.7,1231.1 193.8,1231.6 195.9,1232.4 198.0,1232.5 200.2,1232.6 202.3,1233.0 204.4,1231.5 206.5,1231.7 208.7,1231.1 210.8,1232.5 212.9,1234.7 215.0,1235.2 217.2,1235.3 219.3,1235.4 221.4,1234.1 223.6,1234.7 225.7,1231.5 227.8,1229.7 229.9,1231.4 232.1,1233.4 234.2,1232.8 236.3,1232.5 238.4,1233.1 240.6,1233.0 242.7,1233.5 244.8,1233.3 246.9,1233.5 249.1,1232.9 251.2,1234.1 253.3,1235.5 255.4,1236.7 257.6,1232.1 259.7,1231.9 261.8,1233.4 263.9,1229.6 266.1,1228.5 268.2,1228.2 270.3,1230.3 272.5,1228.2 274.6,1229.9 276.7,1229.5 278.8,1228.2 281.0,1226.1 283.1,1234.0 285.2,1234.7 287.3,1234.5 289.5,1228.8 291.6,1232.1 293.7,1230.6 295.8,1228.2 298.0,1228.9 300.1,1229.3 302.2,1233.8 304.3,1232.2 306.5,1231.2 308.6,1231.9 310.7,1232.1 312.8,1228.5 315.0,1232.3 317.1,1231.6 319.2,1233.0 321.3,1234.9 323.5,1231.2 325.6,1235.5 327.7,1231.4 329.9,1230.0 332.0,1225.4 334.1,1231.3 336.2,1230.0 338.4,1228.7 340.5,1228.3 342.6,1230.4 344.7,1232.3 346.9,1232.1 349.0,1229.9 351.1,1228.2 353.2,1225.0 355.4,1226.5 357.5,1229.3 359.6,1228.4 361.7,1233.0 363.9,1232.5 366.0,1229.6 368.1,1230.3 370.2,1229.9 372.4,1227.6 374.5,1227.7 376.6,1225.2 378.8,1226.8 380.9,1230.2 383.0,1228.1 385.1,1232.0 387.3,1229.3 389.4,1230.3 391.5,1230.0 393.6,1227.5 395.8,1225.5 397.9,1228.1 400.0,1229.8 402.1,1228.6 404.3,1227.8 406.4,1221.9 408.5,1224.3 410.6,1228.5 412.8,1230.1 414.9,1229.3 417.0,1226.5 419.1,1228.9 421.3,1227.3 423.4,1229.0 425.5,1230.9 427.6,1226.5 429.8,1226.3 431.9,1227.3 434.0,1227.9 436.2,1227.5 438.3,1228.9 440.4,1229.4 442.5,1226.5 444.7,1226.3 446.8,1228.6 448.9,1225.0 451.0,1224.7 453.2,1221.4 455.3,1222.7 457.4,1229.1 459.5,1231.6 461.7,1227.2 463.8,1230.3 465.9,1228.5 468.0,1227.7 470.2,1226.3 472.3,1228.4 474.4,1223.6 476.5,1228.0 478.7,1227.0 480.8,1226.1 482.9,1222.0 485.1,1229.3 487.2,1228.5 489.3,1227.0 491.4,1226.1 493.6,1227.6 495.7,1225.0 497.8,1225.7 499.9,1226.9 502.1,1224.2 504.2,1223.3 506.3,1226.8 508.4,1223.6 510.6,1222.6 512.7,1225.0 514.8,1229.1 516.9,1230.0 519.1,1224.5 521.2,1228.8 523.3,1223.2 525.4,1223.1 527.6,1224.7 529.7,1226.4 531.8,1226.6 533.9,1226.1 536.1,1220.9 538.2,1219.5 540.3,1222.4 542.5,1224.4 544.6,1224.1 546.7,1222.6 548.8,1223.9 551.0,1225.8 553.1,1218.2 555.2,1224.3 557.3,1227.4 559.5,1226.3 561.6,1223.0 563.7,1223.2 565.8,1223.4 568.0,1227.6 570.1,1225.4 572.2,1225.6 574.3,1226.1 576.5,1224.4 578.6,1222.1 580.7,1219.1 582.8,1220.1 585.0,1223.4 587.1,1224.7 589.2,1219.3 591.4,1220.5 593.5,1221.8 595.6,1223.8 597.7,1221.9 599.9,1221.3 602.0,1221.8 604.1,1222.9 606.2,1222.4 608.4,1220.4 610.5,1220.9 612.6,1221.7 614.7,1220.6 616.9,1221.0 619.0,1221.0 621.1,1218.2 623.2,1224.2 625.4,1222.4 627.5,1223.6 629.6,1226.3 631.7,1223.9 633.9,1220.6 636.0,1221.1 638.1,1219.6 640.2,1220.0 642.4,1222.4 644.5,1220.1 646.6,1222.1 648.8,1222.0 650.9,1224.7 653.0,1223.4 655.1,1223.7 657.3,1223.3 659.4,1220.9 661.5,1220.3 663.6,1218.7 665.8,1217.7 667.9,1224.1 670.0,1219.8 672.1,1222.8 674.3,1221.0 676.4,1218.4 678.5,1219.9 680.6,1222.1 682.8,1223.0 684.9,1223.7 687.0,1221.4 689.1,1221.6 691.3,1219.4 693.4,1218.3 695.5,1221.0 697.7,1222.3 699.8,1220.4 701.9,1220.2 704.0,1218.7 706.2,1219.5 708.3,1217.2 710.4,1219.1 712.5,1219.3 714.7,1219.0 716.8,1223.6 718.9,1219.1 721.0,1219.7 723.2,1220.8 725.3,1218.0 727.4,1220.5 729.5,1217.6 731.7,1219.2 733.8,1219.2 735.9,1221.9 738.0,1216.2 740.2,1220.9 742.3,1225.1 744.4,1222.0 746.5,1217.2 748.7,1218.1 750.8,1215.4 752.9,1218.7 755.1,1218.5 757.2,1215.6 759.3,1220.6 761.4,1218.1 763.6,1220.9 765.7,1217.9 767.8,1216.7 769.9,1214.4 772.1,1216.8 774.2,1216.6 776.3,1214.9 778.4,1219.9 780.6,1217.5 782.7,1221.2 784.8,1218.9 786.9,1213.5 789.1,1212.2 791.2,1215.3 793.3,1219.5 795.4,1216.9 797.6,1214.3 799.7,1213.6 801.8,1217.3 804.0,1219.5 806.1,1216.6 808.2,1214.0 810.3,1212.5 812.5,1216.0 814.6,1213.2 816.7,1214.4 818.8,1214.4 821.0,1218.4 823.1,1212.2 825.2,1211.6 827.3,1212.4 829.5,1216.4 831.6,1214.2 833.7,1216.5 835.8,1213.6 838.0,1209.9 840.1,1210.8 842.2,1215.6 844.3,1213.4 846.5,1211.3 848.6,1212.4 850.7,1211.4 852.8,1213.4 855.0,1213.9 857.1,1215.5 859.2,1215.1 861.4,1219.0 863.5,1211.8 865.6,1215.2 867.7,1207.0 869.9,1212.3 872.0,1211.2 874.1,1211.3 876.2,1210.9 878.4,1212.9 880.5,1212.0 882.6,1213.9 884.7,1212.7 886.9,1214.6 889.0,1218.2 891.1,1215.2 893.2,1213.9 895.4,1211.0 897.5,1212.0 899.6,1211.4 901.7,1209.7 903.9,1209.2 906.0,1215.2 908.1,1209.0 910.2,1207.6 912.4,1207.7 914.5,1209.9 916.6,1210.0 918.8,1211.7 920.9,1212.1 923.0,1211.6 925.1,1209.0 927.3,1208.9 929.4,1212.3 931.5,1213.7 933.6,1211.0 935.8,1212.0 937.9,1209.5 940.0,1208.3 942.1,1206.8 944.3,1211.2 946.4,1215.0 948.5,1212.5 950.6,1212.3 952.8,1212.6 954.9,1210.8 957.0,1205.9 959.1,1210.8 961.3,1211.2 963.4,1213.4 965.5,1211.0 967.7,1209.5 969.8,1214.2 971.9,1215.2 974.0,1213.1 976.2,1208.1 978.3,1207.4 980.4,1207.0 982.5,1209.0 984.7,1209.0 986.8,1208.9 988.9,1210.8 991.0,1206.7 993.2,1204.4 995.3,1207.5 997.4,1209.5 999.5,1209.4 1001.7,1213.4 1003.8,1210.0 1005.9,1209.0 1008.0,1209.0 1010.2,1207.6 1012.3,1211.0 1014.4,1211.3 1016.5,1214.0 1018.7,1207.8 1020.8,1207.1 1022.9,1212.1 1025.1,1212.5 1027.2,1211.5 1029.3,1212.4 1031.4,1213.9 1033.6,1211.4 1035.7,1215.2 1037.8,1215.6 1039.9,1214.7 1042.1,1213.5 1044.2,1213.5 1046.3,1209.2 1048.4,1205.0 1050.6,1200.6 1052.7,1199.8 1054.8,1200.6 1056.9,1199.2 1059.1,1199.6 1061.2,1203.6 1063.3,1201.0 1065.4,1205.4 1067.6,1208.0 1069.7,1203.9 1071.8,1210.9 1074.0,1213.6 1076.1,1214.8 1078.2,1220.1 1080.3,1224.0 1082.5,1229.1 1084.6,1233.1 1086.7,1240.0 1088.8,1243.9 1091.0,1247.0 1093.1,1249.4 1095.2,1247.2 1097.3,1249.7 1099.5,1252.1 1101.6,1246.5 1103.7,1226.7 1105.8,1136.4 1108.0,1003.2 1110.1,862.6 1112.2,1003.3 1114.3,1137.2 1116.5,1229.0 1118.6,1254.1 1120.7,1256.9 1122.9,1256.6 1125.0,1255.9 1127.1,1252.5 1129.2,1254.9 1131.4,1255.8 1133.5,1257.9 1135.6,1257.5 1137.7,1257.2 1139.9,1259.4 1142.0,1258.6 1144.1,1258.7 1146.2,1255.8 1148.4,1256.1 1150.5,1255.3 1152.6,1258.0 1154.7,1257.2 1156.9,1256.4 1159.0,1256.7 1161.1,1256.4 1163.2,1259.3 1165.4,1260.7 1167.5,1259.9 1169.6,1258.6 1171.7,1260.9 1173.9,1260.4 1176.0,1260.4 1178.1,1257.1 1180.3,1256.1 1182.4,1253.0 1184.5,1248.5 1186.6,1248.5 1188.8,1252.9 1190.9,1254.2 1193.0,1258.1 1195.1,1258.6 1197.3,1258.3 1199.4,1257.6 1201.5,1257.6 1203.6,1260.5 1205.8,1256.5 1207.9,1257.7 1210.0,1259.1 1212.1,1259.0 1214.3,1258.1 1216.4,1257.4 1218.5,1258.0 1220.6,1260.1 1222.8,1258.9 1224.9,1258.0 1227.0,1257.1 1229.2,1260.0 1231.3,1257.2 1233.4,1258.9 1235.5,1258.8 1237.7,1258.3 1239.8,1260.1 1241.9,1261.6 1244.0,1260.2 1246.2,1261.5 1248.3,1260.2 1250.4,1259.4 1252.5,1257.8 1254.7,1257.4 1256.8,1261.6 1258.9,1260.2 1261.0,1256.5 1263.2,1259.1 1265.3,1259.7 1267.4,1257.8 1269.5,1259.9 1271.7,1259.3 1273.8,1255.3 1275.9,1257.0 1278.0,1257.8 1280.2,1260.1 1282.3,1259.5 1284.4,1259.6 1286.6,1258.7 1288.7,1258.9 1290.8,1258.7 1292.9,1260.5 1295.1,1259.5 1297.2,1260.3 1299.3,1259.8 1301.4,1263.5 1303.6,1259.6 1305.7,1259.5 1307.8,1256.3 1309.9,1256.6 1312.1,1259.1 1314.2,1257.1 1316.3,1257.6 1318.4,1257.3 1320.6,1257.1 1322.7,1256.1 1324.8,1257.3 1326.9,1258.6 1329.1,1259.1 1331.2,1257.0 1333.3,1258.2 1335.5,1255.2 1337.6,1259.7 1339.7,1258.3 1341.8,1259.8 1344.0,1255.7 1346.1,1260.1 1348.2,1261.6 1350.3,1259.0 1352.5,1260.3 1354.6,1258.7 1356.7,1259.3 1358.8,1257.8 1361.0,1257.8 1363.1,1255.0 1365.2,1252.5 1367.3,1254.5 1369.5,1255.6 1371.6,1260.8 1373.7,1257.3 1375.8,1260.2 1378.0,1257.2 1380.1,1254.8 1382.2,1255.0 1384.3,1256.3 1386.5,1254.4 1388.6,1258.5 1390.7,1256.1 1392.9,1255.9 1395.0,1254.2 1397.1,1254.2 1399.2,1258.0 1401.4,1254.1 1403.5,1255.8 1405.6,1255.0 1407.7,1253.3 1409.9,1254.5 1412.0,1251.9 1414.1,1255.5 1416.2,1256.1 1418.4,1255.1 1420.5,1255.5 1422.6,1253.4 1424.7,1254.0 1426.9,1254.6 1429.0,1252.2 1431.1,1253.5 1433.2,1253.8 1435.4,1253.2 1437.5,1253.3 1439.6,1255.9 1441.8,1254.3 1443.9,1257.5 1446.0,1254.7 1448.1,1254.2 1450.3,1252.8 1452.4,1253.1 1454.5,1253.2 1456.6,1251.7 1458.8,1253.7 1460.9,1253.0 1463.0,1252.4 1465.1,1250.5 1467.3,1250.1 1469.4,1254.5 1471.5,1255.7 1473.6,1250.3 1475.8,1251.1 1477.9,1251.6 1480.0,1252.9 1482.1,1251.9 1484.3,1252.1 1486.4,1251.1 1488.5,1250.9 1490.6,1252.9 1492.8,1250.1 1494.9,1249.3 1497.0,1251.4 1499.2,1251.7 1501.3,1253.7 1503.4,1250.7 1505.5,1249.2 1507.7,1253.6 1509.8,1252.3 1511.9,1255.5 1514.0,1256.0 1516.2,1252.8 1518.3,1251.6 1520.4,1253.4 1522.5,1252.2 1524.7,1254.0 1526.8,1254.8 1528.9,1256.0 1531.0,1252.9 1533.2,1253.5 1535.3,1253.4 1537.4,1254.9 1539.5,1256.0 1541.7,1254.7 1543.8,1254.0 1545.9,1251.8 1548.1,1254.2 1550.2,1256.9 1552.3,1249.5 1554.4,1253.2 1556.6,1250.8 1558.7,1248.5 1560.8,1249.1 1562.9,1249.4 1565.1,1251.3 1567.2,1252.2 1569.3,1249.2 1571.4,1250.0 1573.6,1250.3 1575.7,1248.8 1577.8,1246.8 1579.9,1248.0 1582.1,1249.1 1584.2,1247.9 1586.3,1247.7 1588.4,1249.7 1590.6,1250.2 1592.7,1250.8 1594.8,1249.5 1596.9,1249.5 1599.1,1254.9 1601.2,1263.4 1603.3,1264.4 1605.5,1267.2 1607.6,1269.1 1609.7,1268.7 1611.8,1273.3 1614.0,1276.3 1616.1,1278.0 1618.2,1279.8 1620.3,1278.7 1622.5,1277.7 1624.6,1275.3 1626.7,1273.2 1628.8,1259.5 1631.0,1202.3 1633.1,1127.6 1635.2,1081.1 1637.3,1114.3 1639.5,1194.5 1641.6,1264.5 1643.7,1285.7 1645.8,1289.6 1648.0,1290.6 1650.1,1292.7 1652.2,1292.9 1654.3,1291.9 1656.5,1291.4 1658.6,1292.5 1660.7,1293.2 1662.9,1292.7 1665.0,1291.7 1667.1,1290.6 1669.2,1292.3 1671.4,1292.5 1673.5,1292.0 1675.6,1291.4 1677.7,1292.1 1679.9,1291.2 1682.0,1290.3 1684.1,1291.4 1686.2,1291.4 1688.4,1291.9 1690.5,1292.1 1692.6,1292.2 1694.7,1292.2 1696.9,1291.6 1699.0,1292.3 1701.1,1291.4 1703.2,1291.7 1705.4,1291.9 1707.5,1291.9 1709.6,1291.9 1711.8,1291.7 1713.9,1291.9 1716.0,1290.9 1718.1,1292.2 1720.3,1292.4 1722.4,1292.5 1724.5,1292.7 1726.6,1292.5 1728.8,1292.9 1730.9,1291.5 1733.0,1292.8 1735.1,1291.4 1737.3,1291.5 1739.4,1291.5 1741.5,1292.7 1743.6,1292.9 1745.8,1292.8 1747.9,1292.4 1750.0,1291.9 1752.1,1291.7 1754.3,1291.8 1756.4,1292.2 1758.5,1293.0 1760.7,1293.0 1762.8,1292.9 1764.9,1292.0 1767.0,1292.0 1769.2,1291.9 1771.3,1292.6 1773.4,1292.4 1775.5,1292.8 1777.7,1293.8 1779.8,1292.3 1781.9,1292.2 1784.0,1292.1 1786.2,1291.4 1788.3,1292.4 1790.4,1292.6 1792.5,1291.9 1794.7,1291.7 1796.8,1292.2 1798.9,1292.2 1801.0,1291.3 1803.2,1291.3 1805.3,1292.1 1807.4,1291.1 1809.5,1291.7 1811.7,1292.7 1813.8,1291.2 1815.9,1291.8 1818.1,1291.3 1820.2,1291.8 1822.3,1291.6 1824.4,1291.9 1826.6,1291.7 1828.7,1292.4 1830.8,1291.4 1832.9,1292.2 1835.1,1292.8 1837.2,1291.7 1839.3,1292.2 1841.4,1292.3 1843.6,1292.5 1845.7,1291.5 1847.8,1291.9 1849.9,1291.9 1852.1,1291.9 1854.2,1291.8 1856.3,1290.7 1858.4,1290.9 1860.6,1292.0 1862.7,1292.0 1864.8,1291.6 1867.0,1291.2 1869.1,1291.3 1871.2,1292.2 1873.3,1291.3 1875.5,1291.4 1877.6,1291.6 1879.7,1292.0 1881.8,1292.0 1884.0,1292.6 1886.1,1291.3 1888.2,1291.8 1890.3,1292.7 1892.5,1292.3 1894.6,1292.6 1896.7,1292.5 1898.8,1292.5 1901.0,1292.8 1903.1,1292.8 1905.2,1291.9 1907.3,1291.9 1909.5,1292.2 1911.6,1291.8 1913.7,1291.7 1915.8,1292.5 1918.0,1292.5 1920.1,1293.3 1922.2,1292.2 1924.4,1292.2 1926.5,1292.1 1928.6,1292.4 1930.7,1292.3 1932.9,1292.0 1935.0,1291.9 1937.1,1292.0 1939.2,1292.7 1941.4,1291.9 1943.5,1292.8 1945.6,1292.3 1947.7,1291.9 1949.9,1292.4 1952.0,1292.2 1954.1,1292.1 1956.2,1292.1 1958.4,1291.2 1960.5,1291.1 1962.6,1291.1 1964.7,1291.5 1966.9,1291.5 1969.0,1291.2 1971.1,1291.8 1973.2,1291.1 1975.4,1292.1 1977.5,1291.6 1979.6,1292.4 1981.8,1292.3 1983.9,1292.0 1986.0,1291.1 1988.1,1291.5 1990.3,1292.5 1992.4,1291.0 1994.5,1290.9 1996.6,1292.2 1998.8,1292.5 2000.9,1291.5 2003.0,1291.3 2005.1,1292.0 2007.3,1291.8 2009.4,1291.5 2011.5,1291.7 2013.6,1291.9 2015.8,1292.2 2017.9,1291.7 2020.0,1292.2 2022.1,1292.4 2024.3,1291.9 2026.4,1292.0 2028.5,1291.8 2030.7,1291.2 2032.8,1290.7 2034.9,1290.7 2037.0,1291.3 2039.2,1291.3 2041.3,1291.9 2043.4,1290.5 2045.5,1291.0 2047.7,1291.1 2049.8,1291.4 2051.9,1291.8 2054.0,1292.0 2056.2,1291.1 2058.3,1291.8 2060.4,1292.1 2062.5,1291.2 2064.7,1292.0 2066.8,1292.1 2068.9,1292.8 2071.0,1292.4 2073.2,1291.9 2075.3,1291.9 2077.4,1292.1 2079.6,1291.1 2081.7,1291.8 2083.8,1292.1 2085.9,1292.3 2088.1,1291.7 2090.2,1292.2 2092.3,1291.8 2094.4,1291.9 2096.6,1292.3 2098.7,1291.2 2100.8,1291.8 2102.9,1291.9 2105.1,1292.4 2107.2,1292.7 2109.3,1293.0 2111.4,1292.4 2113.6,1291.5 2115.7,1292.6 2117.8,1291.6 2119.9,1292.5 2122.1,1292.5 2124.2,1292.2 2126.3,1292.1 2128.4,1292.5 2130.6,1292.8 2132.7,1291.7 2134.8,1291.5 2137.0,1292.0 2139.1,1292.5 2141.2,1292.4 2143.3,1292.2 2145.5,1291.5 2147.6,1291.9 2149.7,1291.7 2151.8,1291.9 2154.0,1292.0 2156.1,1291.6 2158.2,1291.7 2160.3,1291.6 2162.5,1290.9 2164.6,1291.2 2166.7,1292.8 2168.8,1292.9 2171.0,1292.2 2173.1,1291.0 2175.2,1290.4 2177.3,1289.2 2179.5,1289.8 2181.6,1288.7 2183.7,1286.6 2185.8,1283.9 2188.0,1282.7 2190.1,1286.8 2192.2,1290.5 2194.4,1292.2 2196.5,1293.7 2198.6,1291.9 2200.7,1291.5 2202.9,1289.5 2205.0,1288.6 2207.1,1288.8 2209.2,1288.8 2211.4,1291.0 2213.5,1291.4 2215.6,1291.8 2217.7,1291.5 2219.9,1292.0 2222.0,1292.5 2224.1,1292.4 2226.2,1293.8 2228.4,1294.0 2230.5,1294.5 2232.6,1294.4 2234.7,1294.8 2236.9,1295.4" fill="none" stroke="#0000ff" stroke-width="6.2" stroke-linejoin="round" stroke-linecap="round"/>
<polyline points="115.1,1474.4 117.3,1472.9 119.4,1471.0 121.5,1476.4 123.6,1476.8 125.8,1479.1 127.9,1481.9 130.0,1484.1 132.1,1486.1 134.3,1486.1 136.4,1489.0 138.5,1489.7 140.6,1491.5 142.8,1489.7 144.9,1491.6 147.0,1493.3 149.1,1496.3 151.3,1494.1 153.4,1481.8 155.5,1477.8 157.6,1476.9 159.8,1476.0 161.9,1474.9 164.0,1471.3 166.2,1468.5 168.3,1470.5 170.4,1472.8 172.5,1475.3 174.7,1477.8 176.8,1487.7 178.9,1489.8 181.0,1491.7 183.2,1491.7 185.3,1498.1 187.4,1504.7 189.5,1506.8 191.7,1509.7 193.8,1513.0 195.9,1509.7 198.0,1508.0 200.2,1509.3 202.3,1510.6 204.4,1511.6 206.5,1513.1 208.7,1511.9 210.8,1514.9 212.9,1514.4 215.0,1512.7 217.2,1509.5 219.3,1508.6 221.4,1505.9 223.6,1508.7 225.7,1510.7 227.8,1511.8 229.9,1510.7 232.1,1510.2 234.2,1513.1 236.3,1516.7 238.4,1514.6 240.6,1512.8 242.7,1516.0 244.8,1515.7 246.9,1512.5 249.1,1510.1 251.2,1509.5 253.3,1511.1 255.4,1512.2 257.6,1511.2 259.7,1508.7 261.8,1510.2 263.9,1511.3 266.1,1513.3 268.2,1511.7 270.3,1509.9 272.5,1512.0 274.6,1509.1 276.7,1507.0 278.8,1506.8 281.0,1508.4 283.1,1508.6 285.2,1509.5 287.3,1509.8 289.5,1514.8 291.6,1512.2 293.7,1505.8 295.8,1505.0 298.0,1508.0 300.1,1506.8 302.2,1512.9 304.3,1509.3 306.5,1508.2 308.6,1508.9 310.7,1508.4 312.8,1509.8 315.0,1508.6 317.1,1509.4 319.2,1507.7 321.3,1502.7 323.5,1507.5 325.6,1511.9 327.7,1507.7 329.9,1507.1 332.0,1509.8 334.1,1507.9 336.2,1508.6 338.4,1508.1 340.5,1509.7 342.6,1508.7 344.7,1512.9 346.9,1510.2 349.0,1508.5 351.1,1505.4 353.2,1507.6 355.4,1506.1 357.5,1509.0 359.6,1509.8 361.7,1514.6 363.9,1508.8 366.0,1508.8 368.1,1510.7 370.2,1504.8 372.4,1508.4 374.5,1512.3 376.6,1509.8 378.8,1508.7 380.9,1511.0 383.0,1509.8 385.1,1509.3 387.3,1510.4 389.4,1507.2 391.5,1511.9 393.6,1508.7 395.8,1508.3 397.9,1507.3 400.0,1502.2 402.1,1502.4 404.3,1505.2 406.4,1506.8 408.5,1509.9 410.6,1514.2 412.8,1511.4 414.9,1508.7 417.0,1506.5 419.1,1510.1 421.3,1507.0 423.4,1507.1 425.5,1510.1 427.6,1507.9 429.8,1507.1 431.9,1507.4 434.0,1503.6 436.2,1505.5 438.3,1506.7 440.4,1507.6 442.5,1506.2 444.7,1501.8 446.8,1503.2 448.9,1507.0 451.0,1505.0 453.2,1504.0 455.3,1506.6 457.4,1507.6 459.5,1507.1 461.7,1507.8 463.8,1508.4 465.9,1507.9 468.0,1507.4 470.2,1510.4 472.3,1505.0 474.4,1510.3 476.5,1507.9 478.7,1504.9 480.8,1506.9 482.9,1508.2 485.1,1503.8 487.2,1505.2 489.3,1507.1 491.4,1507.7 493.6,1506.2 495.7,1503.2 497.8,1504.2 499.9,1509.5 502.1,1504.5 504.2,1511.3 506.3,1507.0 508.4,1505.3 510.6,1503.7 512.7,1504.6 514.8,1505.0 516.9,1502.5 519.1,1508.1 521.2,1508.2 523.3,1506.4 525.4,1502.2 527.6,1502.6 529.7,1503.1 531.8,1505.4 533.9,1504.1 536.1,1501.4 538.2,1502.5 540.3,1502.8 542.5,1503.3 544.6,1505.3 546.7,1502.5 548.8,1499.7 551.0,1504.6 553.1,1505.7 555.2,1501.4 557.3,1504.0 559.5,1502.2 561.6,1504.1 563.7,1504.4 565.8,1500.3 568.0,1499.6 570.1,1501.2 572.2,1499.1 574.3,1498.7 576.5,1499.2 578.6,1500.8 580.7,1501.5 582.8,1500.3 585.0,1500.9 587.1,1504.2 589.2,1503.9 591.4,1503.4 593.5,1500.9 595.6,1499.9 597.7,1498.4 599.9,1498.6 602.0,1496.6 604.1,1499.5 606.2,1499.9 608.4,1499.5 610.5,1499.4 612.6,1498.0 614.7,1501.8 616.9,1502.9 619.0,1504.5 621.1,1503.2 623.2,1501.7 625.4,1503.4 627.5,1499.4 629.6,1497.6 631.7,1502.0 633.9,1502.6 636.0,1502.3 638.1,1504.5 640.2,1502.3 642.4,1502.1 644.5,1502.4 646.6,1499.1 648.8,1501.3 650.9,1502.5 653.0,1501.5 655.1,1499.7 657.3,1498.9 659.4,1495.6 661.5,1497.3 663.6,1502.6 665.8,1504.3 667.9,1501.9 670.0,1499.6 672.1,1503.0 674.3,1504.0 676.4,1503.1 678.5,1500.1 680.6,1502.3 682.8,1503.4 684.9,1500.8 687.0,1499.0 689.1,1499.3 691.3,1500.8 693.4,1501.7 695.5,1502.2 697.7,1501.3 699.8,1499.8 701.9,1501.1 704.0,1503.0 706.2,1501.8 708.3,1502.4 710.4,1501.0 712.5,1499.0 714.7,1499.0 716.8,1499.5 718.9,1496.7 721.0,1498.5 723.2,1498.2 725.3,1499.8 727.4,1501.5 729.5,1500.8 731.7,1499.3 733.8,1500.1 735.9,1497.6 738.0,1500.0 740.2,1502.6 742.3,1501.8 744.4,1503.4 746.5,1499.9 748.7,1495.8 750.8,1499.3 752.9,1504.1 755.1,1499.2 757.2,1502.6 759.3,1499.2 761.4,1502.4 763.6,1498.9 765.7,1498.4 767.8,1499.7 769.9,1495.8 772.1,1498.0 774.2,1498.2 776.3,1500.4 778.4,1499.7 780.6,1499.2 782.7,1498.5 784.8,1502.5 786.9,1500.9 789.1,1499.6 791.2,1494.3 793.3,1500.0 795.4,1498.9 797.6,1499.0 799.7,1500.2 801.8,1499.3 804.0,1501.5 806.1,1499.2 808.2,1499.5 810.3,1498.8 812.5,1499.5 814.6,1499.0 816.7,1499.1 818.8,1498.7 821.0,1498.4 823.1,1499.1 825.2,1496.6 827.3,1495.5 829.5,1496.7 831.6,1497.3 833.7,1499.9 835.8,1494.9 838.0,1499.4 840.1,1496.7 842.2,1495.1 844.3,1496.9 846.5,1497.6 848.6,1499.1 850.7,1493.2 852.8,1497.8 855.0,1497.9 857.1,1500.1 859.2,1497.3 861.4,1493.6 863.5,1494.9 865.6,1495.3 867.7,1497.4 869.9,1498.6 872.0,1492.6 874.1,1491.5 876.2,1494.7 878.4,1494.0 880.5,1497.3 882.6,1499.2 884.7,1501.5 886.9,1498.0 889.0,1498.8 891.1,1498.1 893.2,1496.9 895.4,1495.2 897.5,1497.7 899.6,1497.9 901.7,1496.1 903.9,1495.2 906.0,1491.6 908.1,1494.6 910.2,1495.3 912.4,1493.1 914.5,1497.3 916.6,1496.0 918.8,1493.2 920.9,1493.9 923.0,1492.3 925.1,1492.5 927.3,1491.4 929.4,1494.0 931.5,1491.2 933.6,1492.2 935.8,1494.0 937.9,1494.1 940.0,1494.9 942.1,1493.3 944.3,1492.9 946.4,1494.8 948.5,1493.9 950.6,1496.4 952.8,1494.3 954.9,1494.7 957.0,1494.0 959.1,1496.6 961.3,1493.3 963.4,1495.7 965.5,1497.3 967.7,1496.6 969.8,1498.0 971.9,1493.7 974.0,1490.5 976.2,1491.6 978.3,1492.4 980.4,1494.5 982.5,1493.1 984.7,1492.8 986.8,1493.2 988.9,1497.3 991.0,1493.9 993.2,1493.9 995.3,1494.7 997.4,1497.6 999.5,1492.6 1001.7,1490.1 1003.8,1492.9 1005.9,1492.5 1008.0,1492.9 1010.2,1490.4 1012.3,1497.2 1014.4,1493.2 1016.5,1496.1 1018.7,1497.6 1020.8,1498.8 1022.9,1501.0 1025.1,1497.6 1027.2,1495.0 1029.3,1497.5 1031.4,1499.8 1033.6,1498.3 1035.7,1496.6 1037.8,1498.4 1039.9,1493.9 1042.1,1497.8 1044.2,1491.4 1046.3,1490.0 1048.4,1490.4 1050.6,1488.3 1052.7,1490.3 1054.8,1487.4 1056.9,1486.0 1059.1,1485.3 1061.2,1487.8 1063.3,1487.3 1065.4,1487.3 1067.6,1491.2 1069.7,1490.6 1071.8,1491.3 1074.0,1496.0 1076.1,1500.5 1078.2,1501.1 1080.3,1504.9 1082.5,1509.3 1084.6,1511.6 1086.7,1515.4 1088.8,1517.8 1091.0,1522.3 1093.1,1519.1 1095.2,1525.0 1097.3,1521.9 1099.5,1525.6 1101.6,1524.8 1103.7,1513.3 1105.8,1453.8 1108.0,1365.2 1110.1,1275.5 1112.2,1365.4 1114.3,1452.5 1116.5,1512.5 1118.6,1527.7 1120.7,1528.1 1122.9,1528.8 1125.0,1526.9 1127.1,1529.6 1129.2,1526.9 1131.4,1529.1 1133.5,1529.6 1135.6,1528.5 1137.7,1530.9 1139.9,1531.4 1142.0,1533.8 1144.1,1531.6 1146.2,1531.9 1148.4,1529.6 1150.5,1532.6 1152.6,1530.6 1154.7,1529.7 1156.9,1528.3 1159.0,1531.3 1161.1,1531.6 1163.2,1530.5 1165.4,1531.4 1167.5,1532.8 1169.6,1531.8 1171.7,1532.3 1173.9,1531.2 1176.0,1531.9 1178.1,1533.1 1180.3,1532.1 1182.4,1529.2 1184.5,1531.3 1186.6,1534.8 1188.8,1530.6 1190.9,1529.5 1193.0,1530.7 1195.1,1529.5 1197.3,1529.2 1199.4,1527.1 1201.5,1527.5 1203.6,1530.0 1205.8,1525.5 1207.9,1530.0 1210.0,1527.7 1212.1,1532.4 1214.3,1531.1 1216.4,1530.7 1218.5,1528.0 1220.6,1531.6 1222.8,1530.3 1224.9,1528.4 1227.0,1531.0 1229.2,1531.5 1231.3,1533.3 1233.4,1529.6 1235.5,1529.6 1237.7,1528.5 1239.8,1526.9 1241.9,1527.6 1244.0,1528.0 1246.2,1528.8 1248.3,1529.2 1250.4,1529.1 1252.5,1529.5 1254.7,1528.9 1256.8,1528.8 1258.9,1529.4 1261.0,1532.2 1263.2,1529.9 1265.3,1528.3 1267.4,1533.0 1269.5,1531.2 1271.7,1529.2 1273.8,1529.3 1275.9,1525.9 1278.0,1527.4 1280.2,1527.1 1282.3,1527.4 1284.4,1526.6 1286.6,1527.8 1288.7,1531.2 1290.8,1528.5 1292.9,1529.1 1295.1,1531.0 1297.2,1529.7 1299.3,1527.8 1301.4,1529.5 1303.6,1530.4 1305.7,1527.9 1307.8,1526.7 1309.9,1525.4 1312.1,1526.6 1314.2,1527.3 1316.3,1527.0 1318.4,1527.1 1320.6,1528.5 1322.7,1528.7 1324.8,1531.9 1326.9,1526.9 1329.1,1525.2 1331.2,1525.8 1333.3,1527.7 1335.5,1530.2 1337.6,1530.0 1339.7,1530.1 1341.8,1526.3 1344.0,1527.5 1346.1,1530.3 1348.2,1529.5 1350.3,1527.1 1352.5,1522.2 1354.6,1525.5 1356.7,1527.2 1358.8,1529.3 1361.0,1528.0 1363.1,1525.0 1365.2,1527.8 1367.3,1525.9 1369.5,1527.1 1371.6,1528.0 1373.7,1526.0 1375.8,1528.0 1378.0,1524.5 1380.1,1527.7 1382.2,1524.4 1384.3,1523.1 1386.5,1524.3 1388.6,1524.7 1390.7,1525.6 1392.9,1526.3 1395.0,1525.3 1397.1,1523.7 1399.2,1526.2 1401.4,1522.2 1403.5,1525.5 1405.6,1523.1 1407.7,1524.2 1409.9,1525.2 1412.0,1521.8 1414.1,1523.7 1416.2,1524.7 1418.4,1524.0 1420.5,1525.8 1422.6,1525.3 1424.7,1523.3 1426.9,1522.8 1429.0,1522.4 1431.1,1520.6 1433.2,1524.5 1435.4,1520.5 1437.5,1524.3 1439.6,1527.3 1441.8,1526.8 1443.9,1525.5 1446.0,1524.1 1448.1,1522.6 1450.3,1522.5 1452.4,1525.3 1454.5,1522.9 1456.6,1523.1 1458.8,1524.9 1460.9,1524.0 1463.0,1523.5 1465.1,1523.4 1467.3,1522.3 1469.4,1524.2 1471.5,1524.0 1473.6,1523.2 1475.8,1521.9 1477.9,1522.9 1480.0,1521.9 1482.1,1519.6 1484.3,1521.5 1486.4,1517.4 1488.5,1520.9 1490.6,1520.4 1492.8,1520.2 1494.9,1519.6 1497.0,1522.5 1499.2,1521.7 1501.3,1519.9 1503.4,1520.1 1505.5,1519.7 1507.7,1522.9 1509.8,1520.8 1511.9,1520.2 1514.0,1520.8 1516.2,1520.6 1518.3,1518.9 1520.4,1521.5 1522.5,1521.3 1524.7,1522.1 1526.8,1517.8 1528.9,1519.5 1531.0,1521.1 1533.2,1521.9 1535.3,1520.0 1537.4,1525.0 1539.5,1524.9 1541.7,1523.3 1543.8,1519.7 1545.9,1517.6 1548.1,1522.2 1550.2,1524.0 1552.3,1519.0 1554.4,1521.9 1556.6,1523.3 1558.7,1520.5 1560.8,1519.7 1562.9,1519.2 1565.1,1518.1 1567.2,1522.4 1569.3,1519.4 1571.4,1518.0 1573.6,1519.5 1575.7,1521.7 1577.8,1519.9 1579.9,1516.2 1582.1,1517.5 1584.2,1516.3 1586.3,1513.3 1588.4,1516.1 1590.6,1516.9 1592.7,1515.9 1594.8,1515.9 1596.9,1523.3 1599.1,1525.2 1601.2,1527.3 1603.3,1530.3 1605.5,1535.1 1607.6,1535.8 1609.7,1540.2 1611.8,1542.0 1614.0,1543.9 1616.1,1545.9 1618.2,1546.4 1620.3,1551.8 1622.5,1550.8 1624.6,1548.4 1626.7,1545.5 1628.8,1543.4 1631.0,1528.1 1633.1,1460.6 1635.2,1371.4 1637.3,1316.6 1639.5,1356.2 1641.6,1451.5 1643.7,1534.9 1645.8,1560.0 1648.0,1563.7 1650.1,1563.9 1652.2,1564.6 1654.3,1565.0 1656.5,1564.6 1658.6,1565.2 1660.7,1565.1 1662.9,1565.3 1665.0,1564.4 1667.1,1564.8 1669.2,1565.0 1671.4,1564.4 1673.5,1565.1 1675.6,1564.7 1677.7,1564.6 1679.9,1564.9 1682.0,1563.9 1684.1,1563.2 1686.2,1563.9 1688.4,1564.5 1690.5,1565.0 1692.6,1565.1 1694.7,1565.9 1696.9,1565.3 1699.0,1564.6 1701.1,1564.6 1703.2,1564.2 1705.4,1564.6 1707.5,1564.2 1709.6,1564.0 1711.8,1563.9 1713.9,1563.6 1716.0,1563.6 1718.1,1564.0 1720.3,1564.1 1722.4,1564.1 1724.5,1564.7 1726.6,1564.0 1728.8,1564.3 1730.9,1564.0 1733.0,1564.3 1735.1,1564.6 1737.3,1564.0 1739.4,1563.7 1741.5,1564.3 1743.6,1563.9 1745.8,1564.2 1747.9,1564.2 1750.0,1564.3 1752.1,1564.0 1754.3,1564.2 1756.4,1564.1 1758.5,1564.4 1760.7,1564.7 1762.8,1564.6 1764.9,1564.4 1767.0,1564.2 1769.2,1564.5 1771.3,1564.1 1773.4,1564.0 1775.5,1564.5 1777.7,1565.2 1779.8,1564.2 1781.9,1564.9 1784.0,1564.2 1786.2,1564.2 1788.3,1563.9 1790.4,1563.8 1792.5,1565.0 1794.7,1564.1 1796.8,1564.1 1798.9,1563.6 1801.0,1564.2 1803.2,1563.7 1805.3,1563.2 1807.4,1563.4 1809.5,1563.8 1811.7,1563.3 1813.8,1563.4 1815.9,1562.6 1818.1,1564.7 1820.2,1564.0 1822.3,1564.0 1824.4,1563.6 1826.6,1564.2 1828.7,1563.6 1830.8,1564.6 1832.9,1564.1 1835.1,1563.5 1837.2,1563.6 1839.3,1563.0 1841.4,1563.9 1843.6,1565.6 1845.7,1565.8 1847.8,1564.6 1849.9,1564.2 1852.1,1563.1 1854.2,1564.6 1856.3,1564.2 1858.4,1564.1 1860.6,1564.4 1862.7,1564.5 1864.8,1563.8 1867.0,1564.6 1869.1,1564.0 1871.2,1564.5 1873.3,1563.6 1875.5,1564.5 1877.6,1564.0 1879.7,1563.6 1881.8,1564.1 1884.0,1563.6 1886.1,1563.7 1888.2,1565.0 1890.3,1564.3 1892.5,1564.7 1894.6,1563.7 1896.7,1564.3 1898.8,1563.5 1901.0,1564.0 1903.1,1563.9 1905.2,1564.0 1907.3,1564.5 1909.5,1564.2 1911.6,1564.1 1913.7,1563.5 1915.8,1563.0 1918.0,1564.3 1920.1,1563.7 1922.2,1564.2 1924.4,1563.8 1926.5,1563.8 1928.6,1564.4 1930.7,1564.3 1932.9,1564.0 1935.0,1563.6 1937.1,1564.4 1939.2,1564.5 1941.4,1563.7 1943.5,1563.5 1945.6,1563.5 1947.7,1564.5 1949.9,1563.7 1952.0,1563.7 1954.1,1563.8 1956.2,1563.8 1958.4,1563.3 1960.5,1563.7 1962.6,1563.4 1964.7,1564.2 1966.9,1563.5 1969.0,1563.2 1971.1,1563.5 1973.2,1563.6 1975.4,1564.2 1977.5,1563.6 1979.6,1564.3 1981.8,1564.2 1983.9,1564.1 1986.0,1564.0 1988.1,1563.6 1990.3,1564.9 1992.4,1564.2 1994.5,1564.0 1996.6,1564.7 1998.8,1563.6 2000.9,1564.9 2003.0,1564.4 2005.1,1564.3 2007.3,1563.8 2009.4,1563.5 2011.5,1563.4 2013.6,1564.0 2015.8,1564.2 2017.9,1563.2 2020.0,1563.2 2022.1,1563.6 2024.3,1565.0 2026.4,1564.8 2028.5,1564.0 2030.7,1564.0 2032.8,1563.6 2034.9,1563.8 2037.0,1563.5 2039.2,1563.9 2041.3,1563.4 2043.4,1563.2 2045.5,1564.7 2047.7,1563.8 2049.8,1563.5 2051.9,1564.3 2054.0,1564.9 2056.2,1565.3 2058.3,1564.6 2060.4,1563.6 2062.5,1563.6 2064.7,1563.3 2066.8,1563.7 2068.9,1563.7 2071.0,1563.5 2073.2,1564.2 2075.3,1563.9 2077.4,1564.1 2079.6,1563.8 2081.7,1563.4 2083.8,1563.4 2085.9,1564.0 2088.1,1565.0 2090.2,1564.3 2092.3,1563.8 2094.4,1563.6 2096.6,1564.0 2098.7,1563.9 2100.8,1564.0 2102.9,1564.1 2105.1,1563.8 2107.2,1562.7 2109.3,1563.3 2111.4,1563.5 2113.6,1563.4 2115.7,1562.8 2117.8,1563.1 2119.9,1563.3 2122.1,1563.3 2124.2,1563.4 2126.3,1562.6 2128.4,1563.2 2130.6,1563.4 2132.7,1562.6 2134.8,1563.7 2137.0,1563.4 2139.1,1563.6 2141.2,1564.1 2143.3,1563.7 2145.5,1563.3 2147.6,1564.0 2149.7,1564.2 2151.8,1563.9 2154.0,1563.6 2156.1,1563.2 2158.2,1563.3 2160.3,1563.0 2162.5,1563.9 2164.6,1563.9 2166.7,1563.3 2168.8,1563.6 2171.0,1563.8 2173.1,1563.5 2175.2,1562.8 2177.3,1562.0 2179.5,1561.8 2181.6,1561.3 2183.7,1559.9 2185.8,1559.5 2188.0,1557.3 2190.1,1560.9 2192.2,1563.6 2194.4,1566.1 2196.5,1566.2 2198.6,1565.8 2200.7,1563.9 2202.9,1562.7 2205.0,1562.5 2207.1,1562.7 2209.2,1563.1 2211.4,1563.0 2213.5,1563.3 2215.6,1564.9 2217.7,1563.9 2219.9,1563.9 2222.0,1564.8 2224.1,1565.6 2226.2,1565.4 2228.4,1565.7 2230.5,1566.1 2232.6,1567.1 2234.7,1566.7 2236.9,1567.4" fill="none" stroke="#008888" stroke-width="6.2" stroke-linejoin="round" stroke-linecap="round"/>
</g>
<g stroke="#000" stroke-width="6">
<line x1="2026.6" y1="1612.0" x2="2026.6" y2="1596"/>
<line x1="1814.0" y1="1612.0" x2="1814.0" y2="1580"/>
<line x1="1601.4" y1="1612.0" x2="1601.4" y2="1596"/>
<line x1="1388.8" y1="1612.0" x2="1388.8" y2="1580"/>
<line x1="1176.2" y1="1612.0" x2="1176.2" y2="1596"/>
<line x1="963.6" y1="1612.0" x2="963.6" y2="1580"/>
<line x1="751.0" y1="1612.0" x2="751.0" y2="1596"/>
<line x1="538.4" y1="1612.0" x2="538.4" y2="1580"/>
<line x1="325.8" y1="1612.0" x2="325.8" y2="1596"/>
</g>
<g id="ticklabels">
<text class="tick" transform="translate(2238.6,1693.6) scale(1.012,1.02)">0</text>
<text class="tick" transform="translate(1813.4,1693.6) scale(1.012,1.02)">200</text>
<text class="tick" transform="translate(1388.2,1693.6) scale(1.012,1.02)">400</text>
<text class="tick" transform="translate(963.0,1693.6) scale(1.012,1.02)">600</text>
<text class="tick" transform="translate(537.8,1693.6) scale(1.012,1.02)">800</text>
<text class="tick" transform="translate(112.6,1693.6) scale(1.012,1.02)">1000</text>
</g>
<text class="axis" transform="translate(1175.6,1767.3) scale(1.0015,1.043)">Binding energy (eV)</text>
<text class="axis" transform="translate(67.8,827.3) rotate(-90) scale(1.0206,1.048)">Intensity (CPS)</text>
<text class="lab" transform="translate(261.3,388.5) scale(1.023,1.0)">(a)</text>
<text class="lab" transform="translate(261.3,771.7) scale(1.023,1.0)">(b)</text>
<text class="lab" transform="translate(261.3,1174.0) scale(1.023,1.0)">(c)</text>
<text class="lab" transform="translate(261.3,1452.7) scale(1.023,1.0)">(d)</text>
<text class="pk" transform="translate(1052.2,139.3) scale(1.0176,1.02)">O1s</text>
<text class="pk" transform="translate(1574.0,241.0) scale(1.028,1.03)">C1s</text>
</svg>
</body>
</html>
